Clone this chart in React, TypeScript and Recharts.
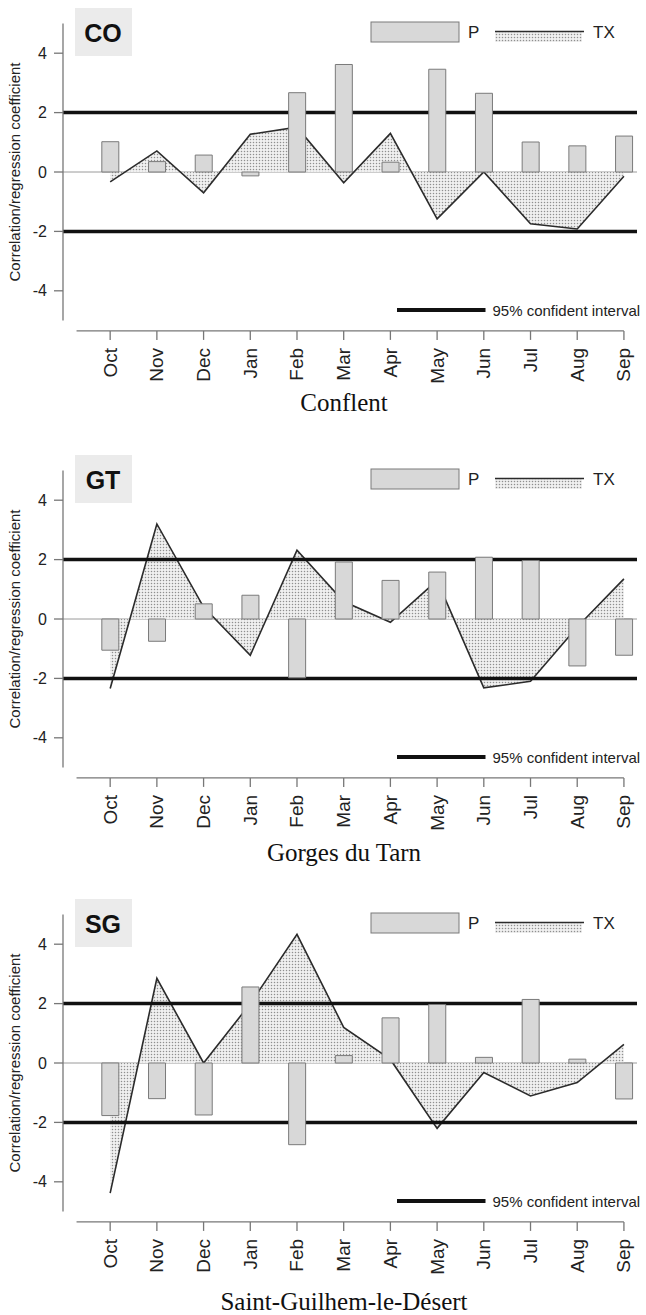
import React from "react";
import { ComposedChart, Bar, Area, Line, XAxis, YAxis, ReferenceLine } from "recharts";

const months = ["Oct", "Nov", "Dec", "Jan", "Feb", "Mar", "Apr", "May", "Jun", "Jul", "Aug", "Sep"];
const monthIdx = [0, 1, 2, 3, 4, 5, 6, 7, 8, 9, 10, 11];
const yTicks = [-4, -2, 0, 2, 4];

// Conflent
const coP = [1.02, 0.35, 0.57, -0.13, 2.67, 3.62, 0.33, 3.46, 2.65, 1.01, 0.88, 1.21];
const coTX = [-0.33, 0.71, -0.7, 1.27, 1.51, -0.36, 1.3, -1.58, 0.0, -1.74, -1.92, -0.14];
// Gorges du Tarn
const gtP = [-1.05, -0.75, 0.51, 0.8, -1.98, 1.92, 1.3, 1.58, 2.08, 1.97, -1.58, -1.22];
const gtTX = [-2.34, 3.2, 0.4, -1.22, 2.32, 0.59, -0.11, 1.3, -2.32, -2.1, -0.27, 1.35];
// Saint-Guilhem-le-Désert
const sgP = [-1.77, -1.2, -1.75, 2.56, -2.75, 0.25, 1.52, 1.97, 0.19, 2.14, 0.13, -1.21];
const sgTX = [-4.38, 2.85, 0.0, 2.0, 4.33, 1.2, 0.12, -2.2, -0.32, -1.11, -0.66, 0.63];

const SANS = "'Liberation Sans', Arial, sans-serif";
const SERIF = "'Liberation Serif', 'Times New Roman', serif";

const Y_MIN = -5.35;
const Y_MAX = 5;
const X_MIN = -1.01;
const X_MAX = 11.28;
const ZERO = 172; // y of the zero line inside a panel

const panels = [
  { code: "CO", name: "Conflent", p: coP, tx: coTX, top: 0, captionTop: 390 },
  { code: "GT", name: "Gorges du Tarn", p: gtP, tx: gtTX, top: 446.5, captionTop: 393 },
  { code: "SG", name: "Saint-Guilhem-le-Désert", p: sgP, tx: sgTX, top: 891, captionTop: 398 },
];

const MonthTick = ({ x, y, payload }: any) => (
  <g transform={`translate(${x},${y})`}>
    <text
      transform="rotate(-90)"
      x={-8}
      y={0}
      textAnchor="end"
      dominantBaseline="central"
      fontSize={19}
      fill="#222"
      fontFamily={SANS}
    >
      {months[payload.value]}
    </text>
  </g>
);

const YLabel = ({ viewBox }: any) => {
  const cx = viewBox.x + 14.5;
  const cy = viewBox.y + (viewBox.height * Y_MAX) / (Y_MAX - Y_MIN);
  return (
    <text
      x={cx}
      y={cy}
      transform={`rotate(-90 ${cx} ${cy})`}
      textAnchor="middle"
      dominantBaseline="central"
      fontSize={15}
      fill="#222"
      fontFamily={SANS}
    >
      Correlation/regression coefficient
    </text>
  );
};

const Dots = ({ id }: { id: string }) => (
  <pattern id={id} width="3" height="3" patternUnits="userSpaceOnUse">
    <rect width="3" height="3" fill="#f0f0f0" />
    <circle cx="1.5" cy="1.5" r="0.75" fill="#8f8f8f" />
  </pattern>
);

const Overlay = ({ code }: { code: string }) => (
  <svg
    width={646}
    height={440}
    style={{ position: "absolute", left: 0, top: 0, pointerEvents: "none" }}
  >
    <defs>
      <Dots id={`legdots-${code}`} />
    </defs>
    <rect x={75} y={ZERO - 164} width={57} height={48} fill="#ebebeb" />
    <text x={103} y={ZERO - 139} textAnchor="middle" dominantBaseline="central" fontSize={25} fontWeight="bold" fill="#111" fontFamily={SANS}>
      {code}
    </text>
    <rect x={371} y={ZERO - 150} width={88} height={20} fill="#d8d8d8" stroke="#7a7a7a" strokeWidth={1} />
    <text x={468} y={ZERO - 140} dominantBaseline="central" fontSize={17} fill="#222" fontFamily={SANS}>P</text>
    <rect x={495} y={ZERO - 140} width={87} height={10} fill={`url(#legdots-${code})`} />
    <line x1={495} x2={584} y1={ZERO - 140.5} y2={ZERO - 140.5} stroke="#2b2b2b" strokeWidth={1.6} />
    <text x={593} y={ZERO - 140} dominantBaseline="central" fontSize={17} fill="#222" fontFamily={SANS}>TX</text>
    <line x1={397} x2={485.5} y1={ZERO + 138} y2={ZERO + 138} stroke="#111" strokeWidth={4} />
    <text x={492.5} y={ZERO + 138} dominantBaseline="central" fontSize={15} fill="#222" fontFamily={SANS}>
      95% confident interval
    </text>
  </svg>
);

const Panel = ({ code, name, p, tx, top, captionTop }: any) => {
  const rows = monthIdx.map((i) => ({ i, p: p[i], tx: tx[i] }));
  return (
    <div style={{ position: "absolute", left: 0, top, width: 646, height: 440 }}>
      <ComposedChart
        width={646}
        height={400}
        data={rows}
        margin={{ top: 23.5, right: 9, bottom: 9.1, left: 0 }}
      >
        <defs>
          <Dots id={`dots-${code}`} />
        </defs>
        <XAxis
          type="number"
          dataKey="i"
          domain={[X_MIN, X_MAX]}
          ticks={monthIdx}
          interval={0}
          height={60}
          axisLine={false}
          tickLine={{ stroke: "#777", strokeWidth: 1.3 }}
          tickSize={9}
          tickMargin={0}
          tick={<MonthTick />}
        />
        <YAxis
          type="number"
          domain={[Y_MIN, Y_MAX]}
          ticks={yTicks}
          width={63}
          axisLine={false}
          tickLine={{ stroke: "#777", strokeWidth: 1.3 }}
          tickSize={9}
          tickMargin={7}
          tick={{ fontSize: 16, fill: "#222", fontFamily: SANS }}
          label={YLabel}
        />
        <ReferenceLine y={0} stroke="#9a9a9a" strokeWidth={1} zIndex={50} />
        <Area
          type="linear"
          dataKey="tx"
          baseValue={0}
          stroke="none"
          fill={`url(#dots-${code})`}
          fillOpacity={1}
          isAnimationActive={false}
          zIndex={100}
        />
        <Line
          type="linear"
          dataKey="tx"
          stroke="#2b2b2b"
          strokeWidth={1.6}
          dot={false}
          isAnimationActive={false}
          zIndex={150}
        />
        <ReferenceLine y={2} stroke="#111" strokeWidth={3.5} zIndex={200} />
        <ReferenceLine y={-2} stroke="#111" strokeWidth={3.5} zIndex={200} />
        <Bar
          dataKey="p"
          barSize={17}
          fill="#d8d8d8"
          stroke="#7a7a7a"
          strokeWidth={1}
          isAnimationActive={false}
          zIndex={300}
        />
        <ReferenceLine
          segment={[{ x: X_MIN, y: -5 }, { x: X_MIN, y: 5 }]}
          stroke="#777"
          strokeWidth={1.3}
          ifOverflow="visible"
          zIndex={350}
        />
        <ReferenceLine
          segment={[{ x: -0.72, y: Y_MIN }, { x: 11, y: Y_MIN }]}
          stroke="#777"
          strokeWidth={1.3}
          ifOverflow="visible"
          zIndex={350}
        />
      </ComposedChart>
      <Overlay code={code} />
      <div
        style={{
          position: "absolute",
          left: 144,
          width: 400,
          top: captionTop,
          textAlign: "center",
          fontFamily: SERIF,
          fontSize: 25,
          lineHeight: "25px",
          color: "#111",
        }}
      >
        {name}
      </div>
    </div>
  );
};

export default function App() {
  return (
    <div style={{ position: "absolute", left: 0, top: 0, width: 646, height: 1315, background: "#fff" }}>
      {panels.map((pn) => (
        <Panel key={pn.code} {...pn} />
      ))}
    </div>
  );
}
